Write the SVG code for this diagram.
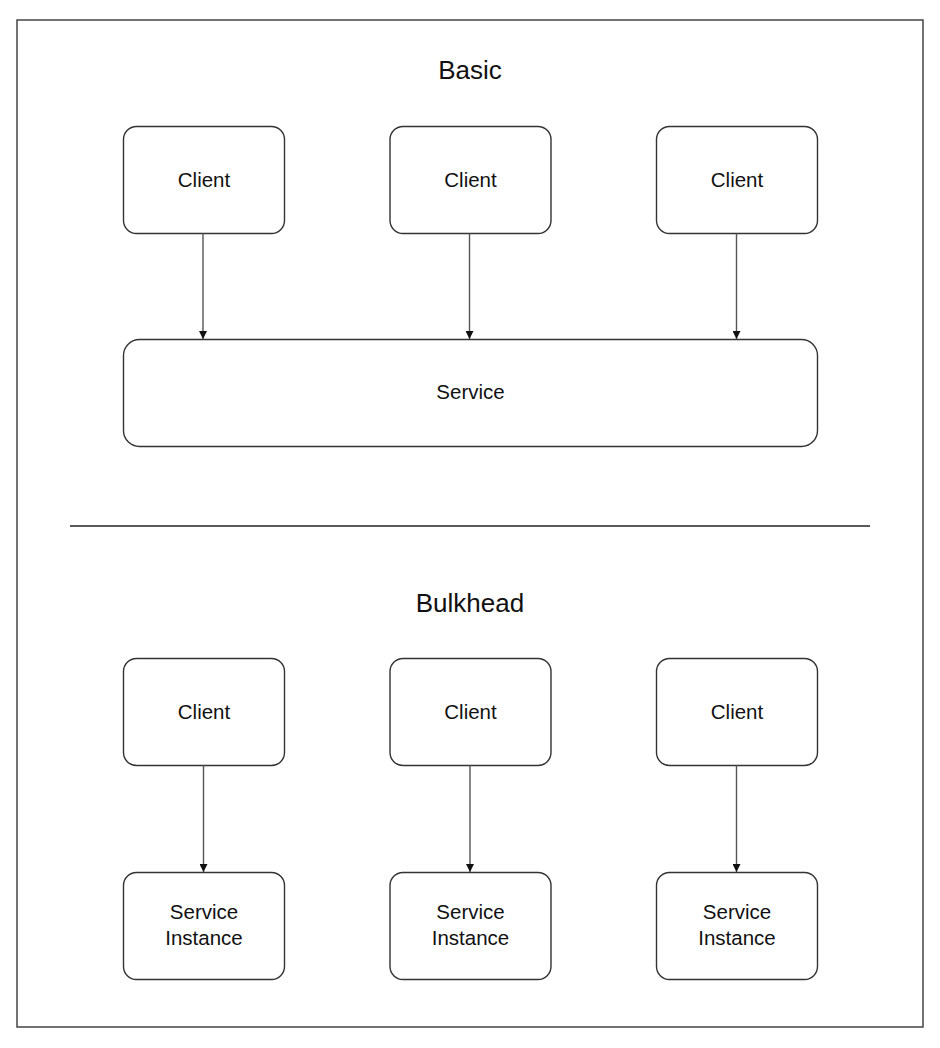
<svg xmlns="http://www.w3.org/2000/svg" width="940" height="1048" viewBox="0 0 940 1048">
<defs>
<style>
.node rect{fill:#fff;stroke:#333;stroke-width:1.4}
text{font-family:"Liberation Sans",Arial,sans-serif;fill:#111;text-anchor:middle}
.lbl{font-size:20.5px}
.title{font-size:26px}
.conn line{stroke:#555;stroke-width:1.4;fill:none}
</style>
<marker id="ah" viewBox="0 0 10 10" refX="10" refY="5" markerWidth="8" markerHeight="8" markerUnits="userSpaceOnUse" orient="auto">
<path d="M0,0 L10,5 L0,10 z" fill="#111"/>
</marker>
</defs>
<rect x="0" y="0" width="940" height="1048" fill="#fff"/>
<rect id="frame" x="17" y="20" width="906" height="1007" fill="none" stroke="#444" stroke-width="1.5"/>
<text class="title" x="470" y="79">Basic</text>
<line id="divider" x1="70" y1="526" x2="870" y2="526" stroke="#222" stroke-width="1.3"/>
<text class="title" x="470" y="612">Bulkhead</text>

<g id="client1" class="node"><rect x="123.5" y="126.5" width="161" height="107" rx="13"/><text class="lbl" x="204" y="187">Client</text></g>
<g id="client2" class="node"><rect x="390" y="126.5" width="161" height="107" rx="13"/><text class="lbl" x="470.5" y="187">Client</text></g>
<g id="client3" class="node"><rect x="656.5" y="126.5" width="161" height="107" rx="13"/><text class="lbl" x="737" y="187">Client</text></g>
<g id="service" class="node"><rect x="123.5" y="339.5" width="694" height="107" rx="16"/><text class="lbl" x="470.5" y="399">Service</text></g>

<g id="bclient1" class="node"><rect x="123.5" y="658.5" width="161" height="107" rx="13"/><text class="lbl" x="204" y="719">Client</text></g>
<g id="bclient2" class="node"><rect x="390" y="658.5" width="161" height="107" rx="13"/><text class="lbl" x="470.5" y="719">Client</text></g>
<g id="bclient3" class="node"><rect x="656.5" y="658.5" width="161" height="107" rx="13"/><text class="lbl" x="737" y="719">Client</text></g>

<g id="inst1" class="node"><rect x="123.5" y="872.5" width="161" height="107" rx="13"/><text class="lbl" x="204" y="919">Service</text><text class="lbl" x="204" y="945">Instance</text></g>
<g id="inst2" class="node"><rect x="390" y="872.5" width="161" height="107" rx="13"/><text class="lbl" x="470.5" y="919">Service</text><text class="lbl" x="470.5" y="945">Instance</text></g>
<g id="inst3" class="node"><rect x="656.5" y="872.5" width="161" height="107" rx="13"/><text class="lbl" x="737" y="919">Service</text><text class="lbl" x="737" y="945">Instance</text></g>

<g id="connectors" class="conn">
<line x1="203" y1="233.5" x2="203" y2="339" marker-end="url(#ah)"/>
<line x1="469.5" y1="233.5" x2="469.5" y2="339" marker-end="url(#ah)"/>
<line x1="736.5" y1="233.5" x2="736.5" y2="339" marker-end="url(#ah)"/>
<line x1="203.5" y1="765.5" x2="203.5" y2="872" marker-end="url(#ah)"/>
<line x1="470" y1="765.5" x2="470" y2="872" marker-end="url(#ah)"/>
<line x1="736.5" y1="765.5" x2="736.5" y2="872" marker-end="url(#ah)"/>
</g>
</svg>
